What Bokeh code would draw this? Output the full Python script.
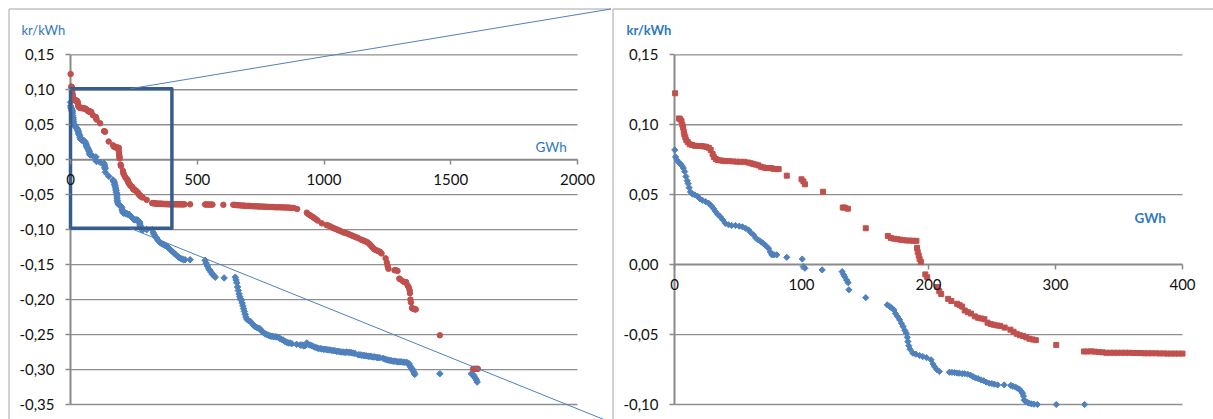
import math
from bokeh.plotting import figure
from bokeh.layouts import row
from bokeh.models import (Range1d, FixedTicker, CustomJSTickFormatter, ColumnDataSource,
                          CDSView, BooleanFilter, Label)
from bokeh.embed import file_html
from bokeh.resources import INLINE

# ---------------------------------------------------------------------------
# Data: two merit-order curves, volume (GWh) against price (kr/kWh)
# ---------------------------------------------------------------------------
blue_gwh = [
    0.2, 0.8, 2, 3.5, 4.7, 6, 7, 8, 9, 10, 10.7, 11.5, 12.5, 14, 16, 18, 20, 22, 24.5, 27,
    29, 30.8, 32.2, 34, 36, 38, 40, 42.5, 45, 48, 51, 53.5, 56, 58.3, 60, 62.2, 64, 66, 68, 70,
    72, 74, 75.5, 76.6, 78.5, 80.5, 88.4, 100.6, 101.4, 102.7, 116.3, 132, 133, 134, 135.5,
    136.7, 137.3, 150.6, 167.6, 169.5, 171, 172.8, 174, 175.5, 177.3, 178.7, 180, 181.3, 182.5,
    183.3, 183.8, 184.5, 185.5, 187.7, 190, 193, 195.5, 198.5, 202, 203.5, 204.7, 206.5, 208.6,
    216.5, 218.5, 220.5, 222.5, 224.3, 226.5, 228.5, 230.8, 233, 235, 237, 239, 241.3, 243.5,
    245.5, 247.8, 250, 252, 254.4, 259.6, 264.8, 266.5, 268.5, 270, 271.5, 273, 274, 274.8,
    275.3, 276.5, 278, 279.2, 281, 283, 285.7, 300.6, 322.9,
    326, 330, 335, 340, 345, 350, 355, 360, 365, 370, 376, 381, 386, 392, 398, 404, 410, 416,
    422, 428, 434, 440, 446, 452, 472, 531, 535, 540, 545, 550, 555, 560, 566, 571, 606,
    650, 653, 656, 659, 662, 665, 668, 671, 674, 677, 680, 683, 686, 689, 692, 696, 702, 709,
    716, 722, 729, 735, 742, 748, 755, 761, 767, 774, 781, 788, 795, 801, 808, 814, 820, 827,
    833, 840, 846, 853, 860, 866, 873, 892, 906, 913, 919, 925, 932, 938, 945, 952, 958, 965,
    972, 978, 985, 991, 998, 1004, 1011, 1017, 1024, 1030, 1037, 1043, 1050, 1056, 1063, 1069,
    1076, 1083, 1089, 1096, 1102, 1109, 1115, 1122, 1135, 1142, 1148, 1155, 1161, 1168, 1174,
    1181, 1187, 1194, 1200, 1207, 1213, 1220, 1233, 1240, 1247, 1253, 1260, 1266, 1273, 1279,
    1286, 1292, 1299, 1305, 1312, 1318, 1325, 1331, 1336, 1339, 1343, 1347, 1350, 1353, 1356,
    1358, 1457, 1581, 1587, 1591, 1594, 1598, 1601, 1604,
]
blue_kr = [
    0.082, 0.077, 0.0748, 0.073, 0.072, 0.0705, 0.069, 0.0665, 0.063, 0.060, 0.058, 0.055,
    0.052, 0.0505, 0.0498, 0.049, 0.047, 0.046, 0.045, 0.0438, 0.042, 0.040, 0.038, 0.036,
    0.0343, 0.032, 0.0295, 0.0285, 0.028, 0.028, 0.0275, 0.027, 0.026, 0.0248, 0.023, 0.0212,
    0.019, 0.0176, 0.0165, 0.015, 0.0135, 0.0117, 0.009, 0.007, 0.007, 0.007, 0.0052, 0.004,
    -0.0014, -0.0026, -0.0038, -0.005, -0.007, -0.0086, -0.011, -0.0129, -0.018, -0.0236,
    -0.0288, -0.030, -0.031, -0.0324, -0.035, -0.037, -0.0395, -0.042, -0.0443, -0.047,
    -0.049, -0.052, -0.055, -0.058, -0.0605, -0.0633, -0.064, -0.065, -0.0657, -0.0665,
    -0.068, -0.071, -0.0729, -0.075, -0.0764, -0.0769, -0.077, -0.0772, -0.0775, -0.0776,
    -0.078, -0.078, -0.0783, -0.079, -0.080, -0.081, -0.0815, -0.0824, -0.083, -0.084,
    -0.0848, -0.085, -0.0855, -0.086, -0.086, -0.0864, -0.087, -0.0875, -0.0883, -0.089,
    -0.0905, -0.0919, -0.094, -0.0967, -0.098, -0.0985, -0.099, -0.0995, -0.0998, -0.100,
    -0.100, -0.100,
    -0.104, -0.107, -0.110, -0.112, -0.115, -0.117, -0.119, -0.120, -0.121, -0.122, -0.123,
    -0.124, -0.126, -0.128, -0.130, -0.132, -0.134, -0.136, -0.138, -0.140, -0.141, -0.142,
    -0.143, -0.143, -0.143, -0.144, -0.148, -0.152, -0.156, -0.158, -0.161, -0.164, -0.166,
    -0.168, -0.169, -0.168, -0.172, -0.176, -0.182, -0.187, -0.192, -0.196, -0.199, -0.201,
    -0.205, -0.209, -0.213, -0.217, -0.221, -0.225, -0.228, -0.230, -0.231, -0.234, -0.237,
    -0.239, -0.240, -0.241, -0.242, -0.245, -0.247, -0.249, -0.250, -0.251, -0.252, -0.2525,
    -0.253, -0.253, -0.2535, -0.254, -0.256, -0.257, -0.258, -0.260, -0.261, -0.262, -0.262,
    -0.263, -0.264, -0.265, -0.265, -0.266, -0.266, -0.262, -0.264, -0.265, -0.266, -0.267,
    -0.268, -0.269, -0.270, -0.270, -0.2705, -0.271, -0.271, -0.2715, -0.272, -0.272,
    -0.2725, -0.273, -0.273, -0.274, -0.274, -0.2745, -0.275, -0.275, -0.2755, -0.275,
    -0.2755, -0.2755, -0.276, -0.2765, -0.277, -0.279, -0.279, -0.2795, -0.280, -0.280,
    -0.2805, -0.281, -0.281, -0.2815, -0.282, -0.282, -0.2825, -0.283, -0.283, -0.284,
    -0.285, -0.286, -0.2865, -0.287, -0.2875, -0.288, -0.288, -0.2885, -0.289, -0.289,
    -0.289, -0.2895, -0.2895, -0.290, -0.2905, -0.292, -0.295, -0.297, -0.299, -0.301,
    -0.303, -0.305, -0.307, -0.306, -0.306, -0.307, -0.309, -0.311, -0.313, -0.315, -0.318,
]

red_gwh = [
    0.5, 3.5, 4.5, 5.5, 6.2, 6.8, 7.3, 7.8, 8.5, 9.3, 10.5, 12, 14, 16, 18, 21, 23, 25, 27,
    28.5, 30, 31, 32.5, 34, 36, 38, 40, 43, 46, 49, 52, 55, 58, 60, 62, 64, 66, 68, 70, 72, 74,
    76, 78, 80, 82, 88.4, 100, 101.5, 102.7, 117, 132.5, 134, 136.5, 150.6, 168, 170.5, 173,
    175.5, 178, 180.5, 183, 185.5, 188, 190.5, 191, 191.5, 192.3, 193, 194, 197.5, 199, 207,
    208.5, 210, 215.5, 218, 222.5, 224.5, 226.5, 228.5, 231, 233.5, 236.5, 239, 241.5, 244,
    246.5, 249, 251.5, 254, 256.5, 260, 264.5, 267, 269.5, 272, 274.5, 277, 279.5, 282, 284.5,
    300.6, 322.4, 325, 328, 331, 334, 337, 340, 343, 346, 349, 352, 355, 358, 361, 364, 367,
    370, 373, 376, 379, 382, 385, 388, 391, 394, 397, 400,
    403, 406, 410, 414, 418, 422, 426, 430, 434, 438, 442, 446, 450, 472, 531, 535, 540, 545,
    550, 555, 560, 603, 642, 648, 654, 660, 667, 673, 680, 686, 692, 699, 705, 712, 718, 725,
    731, 738, 744, 751, 757, 764, 770, 777, 783, 790, 796, 803, 809, 816, 822, 829, 835, 842,
    848, 855, 861, 868, 874, 881, 894, 932, 937, 943, 950, 956, 962, 968, 975, 991, 1010,
    1016, 1023, 1029, 1036, 1042, 1049, 1055, 1062, 1068, 1075, 1081, 1088, 1095, 1101, 1108,
    1114, 1121, 1127, 1134, 1145, 1152, 1158, 1165, 1171, 1178, 1183, 1188, 1193, 1198, 1204,
    1210, 1216, 1222, 1227, 1243, 1248, 1251, 1254, 1278, 1284, 1290, 1297, 1300, 1312, 1318,
    1324, 1330, 1335, 1338, 1339, 1341, 1343, 1347, 1351, 1355, 1359, 1362, 1457, 1588, 1593,
    1598, 1603, 1607,
]
red_kr = [
    0.1225, 0.1045, 0.104, 0.1025, 0.100, 0.098, 0.095, 0.093, 0.091, 0.089, 0.0875, 0.086,
    0.0855, 0.085, 0.0848, 0.0848, 0.0845, 0.0842, 0.0835, 0.082, 0.079, 0.077, 0.0755,
    0.0748, 0.0745, 0.0743, 0.074, 0.074, 0.0738, 0.0736, 0.0735, 0.0735, 0.073, 0.0725,
    0.072, 0.0715, 0.071, 0.070, 0.0695, 0.069, 0.069, 0.069, 0.0685, 0.0683, 0.0683, 0.0636,
    0.061, 0.0595, 0.0574, 0.0521, 0.0408, 0.0408, 0.040, 0.026, 0.0205, 0.019, 0.0185,
    0.0182, 0.0178, 0.0175, 0.0172, 0.0172, 0.017, 0.017, 0.012, 0.009, 0.0065, 0.004, 0.002,
    -0.007, -0.009, -0.016, -0.019, -0.021, -0.0245, -0.026, -0.028, -0.029, -0.030, -0.0328,
    -0.034, -0.035, -0.037, -0.038, -0.0385, -0.039, -0.0415, -0.0425, -0.043, -0.0435,
    -0.0438, -0.045, -0.0465, -0.048, -0.0495, -0.0505, -0.051, -0.052, -0.053, -0.0535,
    -0.054, -0.0574, -0.0621, -0.0621, -0.062, -0.0622, -0.0625, -0.0627, -0.063, -0.063,
    -0.063, -0.063, -0.063, -0.063, -0.063, -0.0632, -0.0632, -0.0632, -0.0634, -0.0634,
    -0.0634, -0.0634, -0.0635, -0.0635, -0.0636, -0.0636, -0.0636, -0.0636, -0.0636,
    -0.0636, -0.0636, -0.0636, -0.0637, -0.0637, -0.0637, -0.0637, -0.0637, -0.0638, -0.0638,
    -0.0638, -0.0638, -0.0638, -0.0638, -0.064, -0.064, -0.064, -0.064, -0.0642, -0.0642,
    -0.0642, -0.0645, -0.0645, -0.0645, -0.065, -0.065, -0.0652, -0.0655, -0.0655, -0.0657,
    -0.066, -0.066, -0.066, -0.0662, -0.0665, -0.0665, -0.0667, -0.0667, -0.067, -0.067,
    -0.067, -0.0672, -0.0672, -0.0675, -0.0675, -0.0675, -0.0677, -0.0677, -0.068, -0.068,
    -0.068, -0.068, -0.0682, -0.0682, -0.0682, -0.0685, -0.0685, -0.0687, -0.069, -0.069,
    -0.0705, -0.0757, -0.0775, -0.079, -0.0805, -0.082, -0.0835, -0.085, -0.087, -0.091,
    -0.0935, -0.094, -0.095, -0.0965, -0.0975, -0.0985, -0.0995, -0.1005, -0.1015, -0.1025,
    -0.1035, -0.1045, -0.105, -0.106, -0.107, -0.108, -0.109, -0.110, -0.111, -0.112, -0.114,
    -0.115, -0.116, -0.117, -0.118, -0.120, -0.122, -0.124, -0.126, -0.128, -0.129, -0.130,
    -0.131, -0.132, -0.134, -0.141, -0.147, -0.152, -0.156, -0.158, -0.158, -0.159, -0.170,
    -0.171, -0.174, -0.175, -0.175, -0.180, -0.183, -0.187, -0.191, -0.200, -0.204, -0.212,
    -0.213, -0.213, -0.214, -0.214, -0.251, -0.299, -0.299, -0.299, -0.299, -0.299,
]

# Axis settings of the full view and of the zoomed view
full_x_ticks = [0, 500, 1000, 1500, 2000]
full_y_ticks = [-0.35, -0.30, -0.25, -0.20, -0.15, -0.10, -0.05, 0.0, 0.05, 0.10, 0.15]
zoom_x_ticks = [0, 100, 200, 300, 400]
zoom_y_ticks = [-0.10, -0.05, 0.0, 0.05, 0.10, 0.15]

y_unit = "kr/kWh"
x_unit = "GWh"

# ---------------------------------------------------------------------------
# Styling
# ---------------------------------------------------------------------------
HEIGHT = 419
BLUE = "#4F81BD"
RED = "#C0504D"
AXIS_GREY = "#8a8a8a"
GRID_GREY = "#8f8f8f"
BORDER_GREY = "#a6a6a6"
UNIT_BLUE = "#2E78C2"
BOX_COLOR = "#385D8A"
FONT = "Lato"

source = ColumnDataSource(dict(x=blue_gwh, y=blue_kr))
source_red = ColumnDataSource(dict(x=red_gwh, y=red_kr))

comma_fmt = CustomJSTickFormatter(code="return tick.toFixed(2).replace('.', ',');")


def build_panel(width, box_px, box_data, x_ticks, y_ticks, red_marker, red_size,
                blue_size, unit_weight, unit_pos):
    """One chart panel whose plot area occupies box_px (pixels) on the canvas."""
    xl, xr, yt, yb = box_px
    x0, x1, y0, y1 = box_data
    sx = (xr - xl) / (x1 - x0)
    sy = (yb - yt) / (y1 - y0)
    x_start = x0 - xl / sx
    x_end = x0 + (width - xl) / sx
    y_end = y1 + yt / sy
    y_start = y1 - (HEIGHT - yt) / sy

    def to_data(px, py):
        return x_start + px / sx, y_end - py / sy

    p = figure(width=width, height=HEIGHT, x_range=Range1d(x_start, x_end),
               y_range=Range1d(y_start, y_end), output_backend="svg",
               toolbar_location=None, title=None, min_border=0)
    p.outline_line_color = None
    p.background_fill_color = "white"
    p.border_fill_color = "white"
    p.grid.visible = False

    # horizontal gridlines spanning only the plotted x extent
    grid_ys = [t for t in y_ticks if t != 0]
    p.segment(x0=[x0] * len(grid_ys), x1=[x1] * len(grid_ys), y0=grid_ys, y1=grid_ys,
              line_color=GRID_GREY, line_width=1.3)
    # axis lines crossing at the origin
    p.segment(x0=[x0, 0], x1=[x1, 0], y0=[0, y0], y1=[0, y1],
              line_color=AXIS_GREY, line_width=2)

    # ticks and labels of axes pinned to the origin
    p.xaxis.fixed_location = 0
    p.yaxis.fixed_location = 0
    p.xaxis.ticker = FixedTicker(ticks=x_ticks)
    p.yaxis.ticker = FixedTicker(ticks=y_ticks)
    p.yaxis.formatter = comma_fmt
    for ax in (p.xaxis, p.yaxis):
        ax.axis_line_color = None
        ax.major_tick_line_color = AXIS_GREY
        ax.major_tick_line_width = 1.5
        ax.major_tick_in = 0
        ax.major_tick_out = 5
        ax.minor_tick_line_color = None
        ax.major_label_text_font = FONT
        ax.major_label_text_font_size = "15px"
        ax.major_label_text_color = "#111111"
    p.yaxis.major_label_standoff = 11
    p.xaxis.major_label_standoff = 9

    mask_b = [(x0 <= x <= x1) and (y0 - 0.0005 <= y <= y1) for x, y in zip(blue_gwh, blue_kr)]
    mask_r = [(x0 <= x <= x1) and (y0 - 0.0005 <= y <= y1) for x, y in zip(red_gwh, red_kr)]
    # diamonds drawn as squares turned by 45 degrees
    p.scatter("x", "y", source=source, view=CDSView(filter=BooleanFilter(mask_b)),
              marker="square", angle=math.pi / 4, size=blue_size, color=BLUE)
    p.scatter("x", "y", source=source_red, view=CDSView(filter=BooleanFilter(mask_r)),
              marker=red_marker, size=red_size, color=RED)

    (ux, uy), (gx, gy) = unit_pos
    lx, ly = to_data(ux, uy)
    p.add_layout(Label(x=lx, y=ly, text=y_unit, text_font=FONT, text_font_size="13px",
                       text_font_style=unit_weight, text_color=UNIT_BLUE,
                       text_baseline="alphabetic"))
    lx, ly = to_data(gx, gy)
    p.add_layout(Label(x=lx, y=ly, text=x_unit, text_font=FONT, text_font_size="13.5px",
                       text_font_style=unit_weight, text_color=UNIT_BLUE,
                       text_baseline="alphabetic"))
    return p, to_data


# Full view: 0-2000 GWh
left, left_px = build_panel(611, (70, 577, 54.3, 404), (0, 2000, -0.35, 0.15),
                            full_x_ticks, full_y_ticks, "circle", 5.5, 4.6, "normal",
                            ((21, 29), (535, 146.5)))
# Zoomed view: 0-400 GWh
right, right_px = build_panel(602, (63, 571, 54.3, 404), (0, 400, -0.10, 0.15),
                             zoom_x_ticks, zoom_y_ticks, "square", 5, 4.4, "bold",
                             ((15, 29), (523, 217.3)))

# chart-area borders
for p, conv, corner in ((left, left_px, (8.5, 8.5)), (right, right_px, (1.5, 8.5))):
    cx, cy = corner
    pts = [conv(cx, 430), conv(cx, cy), conv(1300, cy)]
    p.line([q[0] for q in pts], [q[1] for q in pts], line_color=BORDER_GREY, line_width=1)

# callout box marking the zoomed region and its two connector lines
left.quad(left=0, right=400, bottom=-0.098, top=0.1015, fill_alpha=0,
          line_color=BOX_COLOR, line_width=3.5, line_join="round")
top_end = left_px(611.5, 8.3)
bot_end = left_px(611.5, 422.3)
left.line([236, top_end[0]], [0.1015, top_end[1]], line_color=BLUE, line_width=1)
left.line([236, bot_end[0]], [-0.098, bot_end[1]], line_color=BLUE, line_width=1)

layout = row(left, right)
open("out.html", "w").write(file_html(layout, INLINE))
